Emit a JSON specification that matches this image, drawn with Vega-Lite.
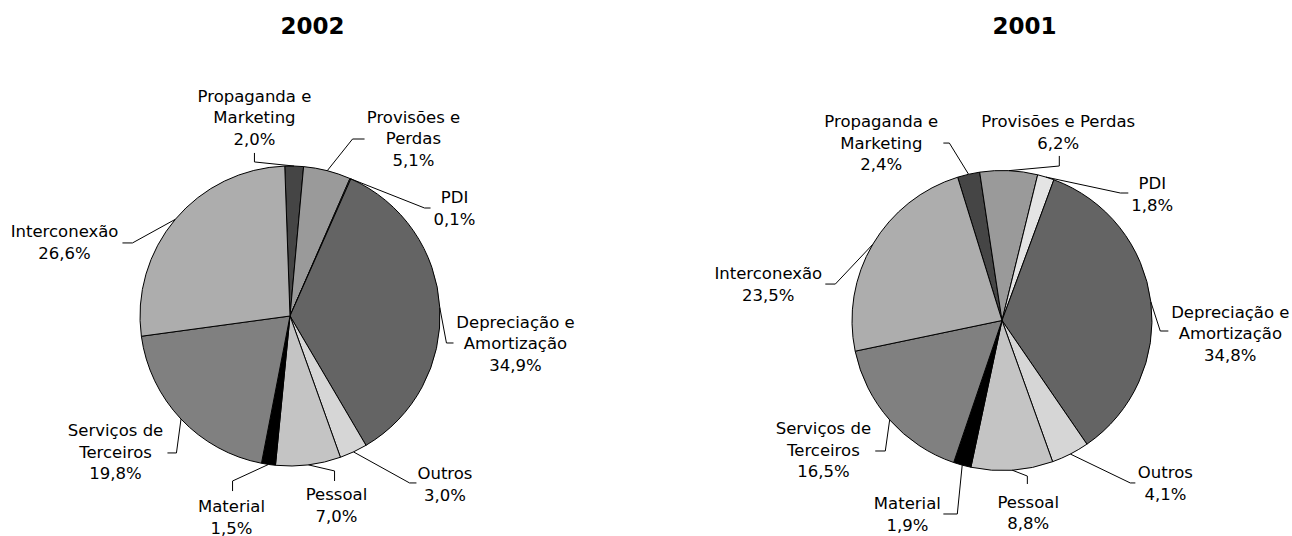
{
  "$schema": "https://vega.github.io/schema/vega-lite/v6.json",
  "padding": {"top": 15, "left": 0, "right": 0, "bottom": 0},
  "bounds": "flush",
  "spacing": 132,
  "config": {
    "view": {"stroke": null},
    "font": "DejaVu Sans",
    "title": {"font": "DejaVu Sans", "fontSize": 23, "fontWeight": "bold", "color": "#000000"}
  },
  "datasets": {
    "costs": [
      {"year": "2002", "ord": 1, "cat": "Propaganda", "name": "Propaganda e\nMarketing", "v": 2.0, "lx": -0.237, "ly": 1.320, "ex": -0.237, "ey": 1.027, "tx": -0.237, "ty": 1.087},
      {"year": "2002", "ord": 2, "cat": "Provisões", "name": "Provisões e\nPerdas", "v": 5.1, "lx": 0.823, "ly": 1.180, "ex": 0.417, "ey": 1.180, "tx": 0.497, "ty": 1.180},
      {"year": "2002", "ord": 3, "cat": "PDI", "name": "PDI", "v": 0.1, "lx": 1.097, "ly": 0.713, "ex": 0.897, "ey": 0.720, "tx": 0.937, "ty": 0.720},
      {"year": "2002", "ord": 4, "cat": "Depreciação", "name": "Depreciação e\nAmortização", "v": 34.9, "lx": 1.503, "ly": -0.187, "ex": 1.043, "ey": -0.180, "tx": 1.090, "ty": -0.180},
      {"year": "2002", "ord": 5, "cat": "Outros", "name": "Outros", "v": 3.0, "lx": 1.033, "ly": -1.127, "ex": 0.797, "ey": -1.113, "tx": 0.843, "ty": -1.113},
      {"year": "2002", "ord": 6, "cat": "Pessoal", "name": "Pessoal", "v": 7.0, "lx": 0.310, "ly": -1.267, "ex": 0.297, "ey": -1.033, "tx": 0.297, "ty": -1.100},
      {"year": "2002", "ord": 7, "cat": "Material", "name": "Material", "v": 1.5, "lx": -0.390, "ly": -1.347, "ex": -0.383, "ey": -1.100, "tx": -0.383, "ty": -1.167},
      {"year": "2002", "ord": 8, "cat": "Serviços", "name": "Serviços de\nTerceiros", "v": 19.8, "lx": -1.163, "ly": -0.913, "ex": -0.757, "ey": -0.913, "tx": -0.817, "ty": -0.913},
      {"year": "2002", "ord": 9, "cat": "Interconexão", "name": "Interconexão", "v": 26.6, "lx": -1.503, "ly": 0.487, "ex": -1.050, "ey": 0.487, "tx": -1.117, "ty": 0.487},
      {"year": "2001", "ord": 1, "cat": "Propaganda", "name": "Propaganda e\nMarketing", "v": 2.4, "lx": -0.805, "ly": 1.177, "ex": -0.351, "ey": 1.183, "tx": -0.391, "ty": 1.183},
      {"year": "2001", "ord": 2, "cat": "Provisões", "name": "Provisões e Perdas", "v": 6.2, "lx": 0.375, "ly": 1.250, "ex": 0.382, "ey": 1.030, "tx": 0.382, "ty": 1.097},
      {"year": "2001", "ord": 3, "cat": "PDI", "name": "PDI", "v": 1.8, "lx": 1.002, "ly": 0.837, "ex": 0.789, "ey": 0.850, "tx": 0.842, "ty": 0.850},
      {"year": "2001", "ord": 4, "cat": "Depreciação", "name": "Depreciação e\nAmortização", "v": 34.8, "lx": 1.522, "ly": -0.090, "ex": 1.055, "ey": -0.070, "tx": 1.109, "ty": -0.070},
      {"year": "2001", "ord": 5, "cat": "Outros", "name": "Outros", "v": 4.1, "lx": 1.089, "ly": -1.090, "ex": 0.855, "ey": -1.083, "tx": 0.889, "ty": -1.083},
      {"year": "2001", "ord": 6, "cat": "Pessoal", "name": "Pessoal", "v": 8.8, "lx": 0.175, "ly": -1.287, "ex": 0.169, "ey": -1.037, "tx": 0.169, "ty": -1.090},
      {"year": "2001", "ord": 7, "cat": "Material", "name": "Material", "v": 1.9, "lx": -0.631, "ly": -1.297, "ex": -0.298, "ey": -1.290, "tx": -0.391, "ty": -1.290},
      {"year": "2001", "ord": 8, "cat": "Serviços", "name": "Serviços de\nTerceiros", "v": 16.5, "lx": -1.191, "ly": -0.870, "ex": -0.778, "ey": -0.870, "tx": -0.845, "ty": -0.870},
      {"year": "2001", "ord": 9, "cat": "Interconexão", "name": "Interconexão", "v": 23.5, "lx": -1.558, "ly": 0.237, "ex": -1.111, "ey": 0.243, "tx": -1.178, "ty": 0.243}
    ]
  },
  "hconcat": [
    {
      "title": {"text": "2002", "anchor": "middle", "offset": 45.5, "dx": 22.5},
      "width": 580,
      "height": 464,
      "data": {"name": "costs"},
      "transform": [
        {"filter": "datum.year == '2002'"},
        {"window": [{"op": "sum", "field": "v", "as": "cum"}], "sort": [{"field": "ord"}]},
        {"calculate": "(-2 + (datum.cum - datum.v / 2) * 3.6) * PI / 180", "as": "a"},
        {"calculate": "sin(datum.a)", "as": "px"},
        {"calculate": "cos(datum.a)", "as": "py"},
        {"calculate": "datum.name + '\\n' + replace(format(datum.v, '.1f'), '.', ',') + '%'", "as": "txt"},
        {"calculate": "datum.ly + (length(split(datum.txt, '\\n')) - 1) * 21.5 / 300", "as": "ly1"}
      ],
      "layer": [
        {
          "mark": {"type": "arc", "outerRadius": 150, "stroke": "#000000", "strokeWidth": 1},
          "encoding": {
            "theta": {"field": "v", "type": "quantitative", "stack": true, "scale": {"range": [-0.034907, 6.248278]}},
            "order": {"field": "ord", "type": "quantitative"},
            "color": {"field": "cat", "type": "nominal", "legend": null,
              "scale": {"domain": ["Propaganda", "Provisões", "PDI", "Depreciação", "Outros", "Pessoal", "Material", "Serviços", "Interconexão"],
                        "range": ["#454545", "#9a9a9a", "#e4e4e4", "#646464", "#d6d6d6", "#c4c4c4", "#000000", "#808080", "#adadad"]}}
          }
        },
        {
          "mark": {"type": "rule", "color": "#000000", "strokeWidth": 1},
          "encoding": {
            "x": {"field": "px", "type": "quantitative", "axis": null, "scale": {"domain": [-1.93333, 1.93333], "nice": false, "zero": false}},
            "y": {"field": "py", "type": "quantitative", "axis": null, "scale": {"domain": [-1.54667, 1.54667], "nice": false, "zero": false}},
            "x2": {"field": "ex"},
            "y2": {"field": "ey"}
          }
        },
        {
          "mark": {"type": "rule", "color": "#000000", "strokeWidth": 1},
          "encoding": {
            "x": {"field": "ex", "type": "quantitative"},
            "y": {"field": "ey", "type": "quantitative"},
            "x2": {"field": "tx"},
            "y2": {"field": "ty"}
          }
        },
        {
          "mark": {"type": "text", "font": "DejaVu Sans", "fontSize": 16.5, "lineBreak": "\n", "lineHeight": 21.5, "align": "center", "baseline": "middle", "color": "#000000"},
          "encoding": {
            "x": {"field": "lx", "type": "quantitative"},
            "y": {"field": "ly1", "type": "quantitative"},
            "text": {"field": "txt", "type": "nominal"}
          }
        }
      ]
    },
    {
      "title": {"text": "2001", "anchor": "middle", "offset": 45.5, "dx": 22.5},
      "width": 580,
      "height": 473,
      "data": {"name": "costs"},
      "transform": [
        {"filter": "datum.year == '2001'"},
        {"window": [{"op": "sum", "field": "v", "as": "cum"}], "sort": [{"field": "ord"}]},
        {"calculate": "(-17.2 + (datum.cum - datum.v / 2) * 3.6) * PI / 180", "as": "a"},
        {"calculate": "sin(datum.a)", "as": "px"},
        {"calculate": "cos(datum.a)", "as": "py"},
        {"calculate": "datum.name + '\\n' + replace(format(datum.v, '.1f'), '.', ',') + '%'", "as": "txt"},
        {"calculate": "datum.ly + (length(split(datum.txt, '\\n')) - 1) * 21.5 / 300", "as": "ly1"}
      ],
      "layer": [
        {
          "mark": {"type": "arc", "outerRadius": 150, "stroke": "#000000", "strokeWidth": 1},
          "encoding": {
            "theta": {"field": "v", "type": "quantitative", "stack": true, "scale": {"range": [-0.300197, 5.982988]}},
            "order": {"field": "ord", "type": "quantitative"},
            "color": {"field": "cat", "type": "nominal", "legend": null,
              "scale": {"domain": ["Propaganda", "Provisões", "PDI", "Depreciação", "Outros", "Pessoal", "Material", "Serviços", "Interconexão"],
                        "range": ["#454545", "#9a9a9a", "#e4e4e4", "#646464", "#d6d6d6", "#c4c4c4", "#000000", "#808080", "#adadad"]}}
          }
        },
        {
          "mark": {"type": "rule", "color": "#000000", "strokeWidth": 1},
          "encoding": {
            "x": {"field": "px", "type": "quantitative", "axis": null, "scale": {"domain": [-1.93333, 1.93333], "nice": false, "zero": false}},
            "y": {"field": "py", "type": "quantitative", "axis": null, "scale": {"domain": [-1.57667, 1.57667], "nice": false, "zero": false}},
            "x2": {"field": "ex"},
            "y2": {"field": "ey"}
          }
        },
        {
          "mark": {"type": "rule", "color": "#000000", "strokeWidth": 1},
          "encoding": {
            "x": {"field": "ex", "type": "quantitative"},
            "y": {"field": "ey", "type": "quantitative"},
            "x2": {"field": "tx"},
            "y2": {"field": "ty"}
          }
        },
        {
          "mark": {"type": "text", "font": "DejaVu Sans", "fontSize": 16.5, "lineBreak": "\n", "lineHeight": 21.5, "align": "center", "baseline": "middle", "color": "#000000"},
          "encoding": {
            "x": {"field": "lx", "type": "quantitative"},
            "y": {"field": "ly1", "type": "quantitative"},
            "text": {"field": "txt", "type": "nominal"}
          }
        }
      ]
    }
  ]
}
